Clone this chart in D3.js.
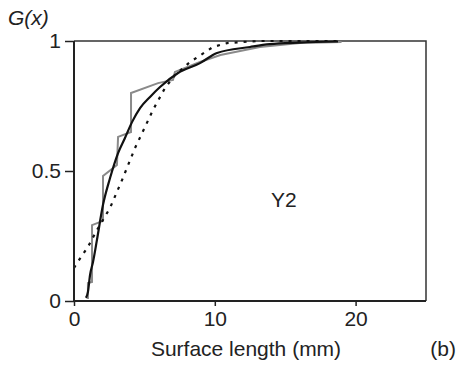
<!DOCTYPE html>
<html>
<head>
<meta charset="utf-8">
<script src="https://cdn.jsdelivr.net/npm/d3@7"></script>
<style>
  html, body { margin: 0; padding: 0; background: #fff; }
  svg text { font-family: "Liberation Sans", Arial, sans-serif; fill: #222; }
</style>
</head>
<body>
<div id="chart"></div>
<script>
// ── Data ────────────────────────────────────────
// empirical CDF of surface length, grey stepped line
const EMP_X = [0.99, 0.99, 1.28, 1.28, 2.06, 2.06, 3.05, 3.13, 4.05, 4.05, 5.97, 7.03, 7.17, 8.95, 10.4, 13.2, 16.05, 19.0];
const EMP_G = [0.008, 0.069, 0.073, 0.292, 0.308, 0.481, 0.523, 0.631, 0.65, 0.80, 0.838, 0.85, 0.881, 0.919, 0.946, 0.977, 0.992, 0.996];

// fitted distribution, black solid
const FIT_X = [0.85, 0.99, 1.14, 1.35, 1.63, 2.06, 2.56, 3.13, 3.62, 4.12, 4.69, 5.40, 6.11, 7.39, 8.95, 10.16, 12.5, 13.9, 16.05, 18.75];
const FIT_G = [0.012, 0.035, 0.10, 0.15, 0.235, 0.37, 0.473, 0.569, 0.627, 0.688, 0.742, 0.785, 0.823, 0.877, 0.915, 0.954, 0.977, 0.988, 0.994, 0.998];

// second fit, black dotted
const DOT_X = [0, 0.21, 0.99, 1.63, 2.56, 3.41, 4.33, 5.04, 5.61, 6.46, 7.17, 8.24, 9.87, 10.87, 11.93, 13.2, 18.75];
const DOT_G = [0.127, 0.146, 0.208, 0.273, 0.358, 0.465, 0.588, 0.669, 0.735, 0.819, 0.869, 0.919, 0.977, 0.992, 0.996, 1.0, 1.0];

const X_TICKS = [0, 10, 20];
const Y_TICKS = [0, 0.5, 1];
const Y_TICK_LABELS = ["0", "0.5", "1"];

(function () {
  const W = 460, H = 365;
  const margin = { top: 41, right: 34, bottom: 64, left: 74 };
  const FS = "21px";

  const svg = d3.select("#chart").append("svg")
    .attr("width", W).attr("height", H);

  const x = d3.scaleLinear().domain([0, 25]).range([margin.left, W - margin.right]);
  const y = d3.scaleLinear().domain([0, 1]).range([H - margin.bottom, margin.top]);

  const line = d3.line().x(d => x(d[0])).y(d => y(d[1]));

  // ── Frame (top + right) ──────────────────────
  svg.append("path")
    .attr("d", `M${x(0)},${y(1)}H${x(25)}V${y(0)}`)
    .attr("fill", "none").attr("stroke", "#333").attr("stroke-width", 1.5);

  // ── Curves ──────────────────────────────────
  svg.append("path")
    .datum(EMP_X.map((v, i) => [v, EMP_G[i]]))
    .attr("d", line)
    .attr("fill", "none").attr("stroke", "#8a8a8a").attr("stroke-width", 2);

  svg.append("path")
    .datum(DOT_X.map((v, i) => [v, DOT_G[i]]))
    .attr("d", line)
    .attr("fill", "none").attr("stroke", "#111").attr("stroke-width", 2.2)
    .attr("stroke-dasharray", "3,6");

  svg.append("path")
    .datum(FIT_X.map((v, i) => [v, FIT_G[i]]))
    .attr("d", line.curve(d3.curveMonotoneX))
    .attr("fill", "none").attr("stroke", "#111").attr("stroke-width", 2.2);

  // ── Axes ────────────────────────────────────
  const xAxis = svg.append("g")
    .attr("transform", `translate(0,${y(0)})`)
    .call(d3.axisBottom(x).tickValues(X_TICKS).tickSize(5).tickPadding(5).tickFormat(d3.format("d")));
  const yAxis = svg.append("g")
    .attr("transform", `translate(${x(0)},0)`)
    .call(d3.axisLeft(y).tickValues(Y_TICKS).tickSize(9).tickPadding(4)
      .tickFormat((d, i) => Y_TICK_LABELS[i]));

  [xAxis, yAxis].forEach(a => {
    a.select(".domain").attr("stroke", "#222").attr("stroke-width", 2);
    a.selectAll(".tick line").attr("stroke", "#222").attr("stroke-width", 1.5);
    a.selectAll("text").attr("font-size", FS).attr("fill", "#222")
      .attr("font-family", "'Liberation Sans', Arial, sans-serif");
  });
  yAxis.select(".domain").attr("d", `M0,${y(0)}V${y(1)}`);
  xAxis.select(".domain").attr("d", `M0,0H${x(25) - x(0)}`).attr("transform", `translate(${x(0)},0)`);

  // ── Labels ──────────────────────────────────
  svg.append("text")
    .attr("x", 8).attr("y", 25)
    .attr("font-size", FS).attr("font-style", "italic")
    .text("G(x)");

  svg.append("text")
    .attr("x", 246).attr("y", 356)
    .attr("text-anchor", "middle").attr("font-size", FS)
    .text("Surface length (mm)");

  svg.append("text")
    .attr("x", 456).attr("y", 356)
    .attr("text-anchor", "end").attr("font-size", FS)
    .text("(b)");

  svg.append("text")
    .attr("x", x(14.9)).attr("y", y(0.36))
    .attr("text-anchor", "middle").attr("font-size", FS)
    .text("Y2");
})();
</script>
</body>
</html>
